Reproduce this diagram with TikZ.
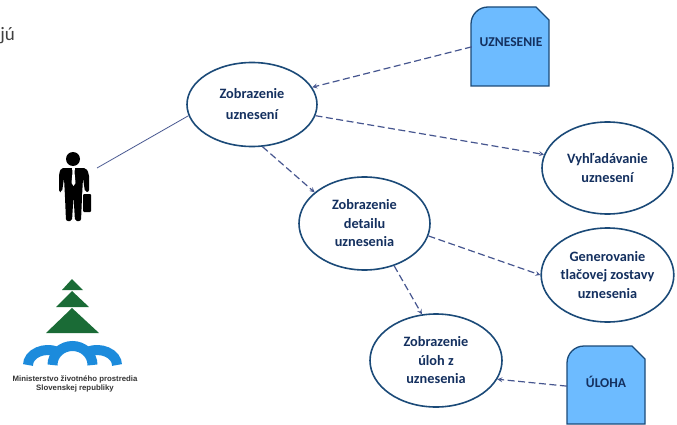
\documentclass[tikz,border=0pt]{standalone}
\usepackage{fontspec}
\setmainfont{Carlito}
\newfontfamily\logofont{Liberation Sans}
\definecolor{ringblue}{HTML}{1B4A78}
\definecolor{textblue}{HTML}{14305F}
\definecolor{arrowblue}{HTML}{46568F}
\definecolor{docblue}{HTML}{6DBBFF}
\definecolor{treegreen}{HTML}{1A6B36}
\definecolor{archblue}{HTML}{1C8BDC}
\tikzset{
	usecase/.style={ellipse,draw=ringblue,line width=1.6pt,fill=white,text=textblue,align=center,font=\bfseries\fontsize{14.3}{18.5}\selectfont,inner sep=0pt},
	doclabel/.style={text=textblue,font=\bfseries\fontsize{13.5}{16}\selectfont,minimum width=78pt,minimum height=40pt,inner sep=0pt},
	docshape/.style={draw=ringblue,line width=1.3pt,fill=docblue},
	link/.style={arrowblue,line width=1.2pt,dash pattern=on 7pt off 3.5pt,-stealth},
}
\usetikzlibrary{shapes.geometric}
\begin{document}
\begin{tikzpicture}[x=1pt,y=-1pt]
	\useasboundingbox (0,0) rectangle (677,425);
	\node[anchor=east,inner sep=0pt,text=black!75,font=\fontsize{19}{19}\selectfont] (ju) at (15,36) {jú};
	% dokumenty
	\draw[docshape] (471,86) -- (471,24) to[out=90,in=180] (488,7) -- (536,7) -- (549,20) -- (549,86) -- cycle;
	\draw[docshape] (567,424) -- (567,363) to[out=90,in=180] (584,346) -- (632,346) -- (645,359) -- (645,424) -- cycle;
	\node[doclabel] (uznesenie) at (511,42) {UZNESENIE};
	\node[doclabel] (uloha) at (606,382) {ÚLOHA};
	% pripady
	\node[usecase,minimum width=130pt,minimum height=84pt] (zobraz) at (252,104.5) {Zobrazenie\\[2.5pt]uznesení};
	\node[usecase,minimum width=131pt,minimum height=92pt] (hladaj) at (607.5,168) {Vyhľadávanie\\uznesení};
	\node[usecase,minimum width=131pt,minimum height=93pt] (detail) at (364.5,223.5) {Zobrazenie\\detailu\\uznesenia};
	\node[usecase,minimum width=131pt,minimum height=94pt] (zostava) at (607.5,275) {Generovanie\\tlačovej zostavy\\uznesenia};
	\node[usecase,minimum width=132pt,minimum height=93pt] (ulohy) at (436,360.5) {Zobrazenie\\úloh z\\uznesenia};
	% spojnice
	\coordinate (user) at (97,168);
	\draw[arrowblue,line width=0.8pt] (zobraz.190) -- (user);
	\draw[link] (uznesenie.187) -- (zobraz.16.5);
	\draw[link] (zobraz.-10) -- (hladaj.168);
	\draw[link] (zobraz.-76) -- (detail.148);
	\draw[link] (detail.-11.6) -- (zostava.180);
	\draw[link] (detail.-55) -- (ulohy.107);
	\draw[link] (uloha.186) -- (ulohy.-17.7);
	% postava
	\fill[black] (73,159) circle (7);
	\fill[black,rounded corners=2pt] (61,168) -- (86,168) -- (89,174) -- (89,192) -- (85,192) -- (83,178) -- (82,197) -- (81,221) -- (75,221) -- (73.5,196) -- (72,221) -- (66,221) -- (65,197) -- (64,178) -- (62,192) -- (59,192) -- (59,174) -- cycle;
	\fill[white] (72,168) -- (75,168) -- (74.5,172) -- (75.5,183) -- (73.5,186) -- (71.5,183) -- (72.5,172) -- cycle;
	\fill[black,rounded corners=1pt] (83,194) rectangle (91,212);
	\draw[white,line width=0.6pt] (82.6,194) -- (82.6,212);
	% logo
	\fill[treegreen] (72,279) -- (83,290) -- (62,290) -- cycle;
	\fill[treegreen] (72,291) -- (89,307) -- (56,307) -- cycle;
	\fill[treegreen] (72,308) -- (99,333) -- (46,333) -- cycle;
	\draw[archblue,line width=10pt] (28,365) arc[start angle=180,end angle=295,x radius=20,y radius=15];
	\draw[archblue,line width=10pt] (117,365) arc[start angle=0,end angle=-115,x radius=20,y radius=15];
	\draw[archblue,line width=10pt] (52.5,365) arc[start angle=180,end angle=360,x radius=20,y radius=19];
	\node[font=\logofont\bfseries\fontsize{7.8}{9}\selectfont,text=black!80,align=center,inner sep=0pt] (logotext) at (75,383.5) {Ministerstvo životného prostredia\\Slovenskej republiky};
\end{tikzpicture}
\end{document}
